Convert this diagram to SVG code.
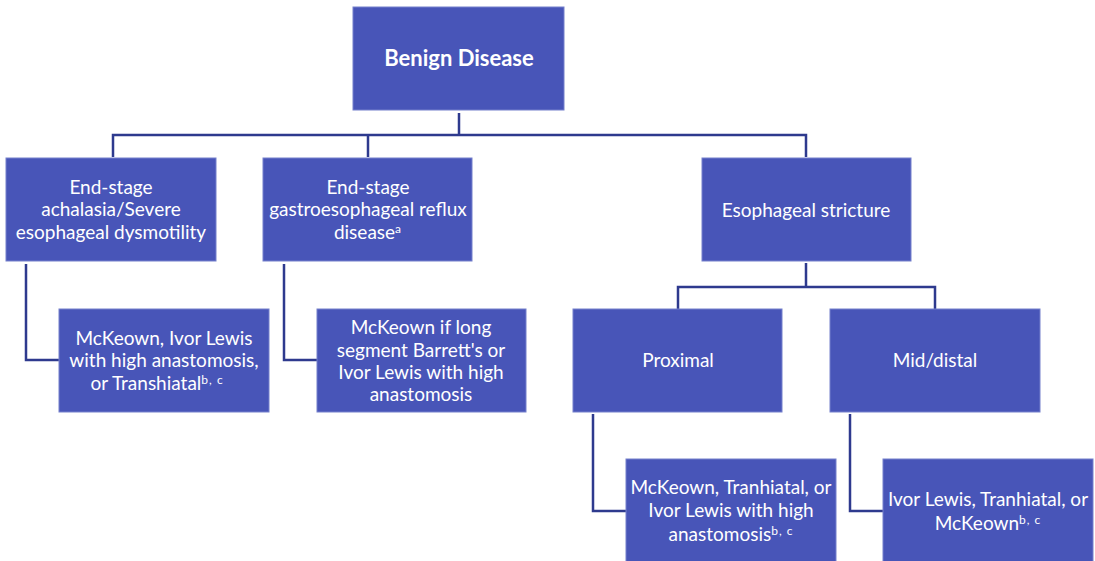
<svg xmlns="http://www.w3.org/2000/svg" width="1095" height="561" viewBox="0 0 1095 561">
<style>
.box{fill:#4855B8;stroke:#7580CC;stroke-width:1}
.t{font-family:Lato,"Open Sans","Liberation Sans",sans-serif;font-size:19px;fill:#ffffff;text-anchor:middle}
.b{font-weight:bold;font-size:22px}
.sup{font-size:12px;letter-spacing:1px}
.c{fill:none;stroke:#2E3A8E;stroke-width:2.5}
</style>
<rect width="1095" height="561" fill="#ffffff"/>
<g id="connectors">
<path class="c" d="M459,113 V135 M113,157 V135 H806 V157 M368,135 V157"/>
<path class="c" d="M26,264 V360 H59"/>
<path class="c" d="M284,264 V360 H317"/>
<path class="c" d="M806,263 V287 M678,309 V287 H935 V309"/>
<path class="c" d="M593,414 V511 H626"/>
<path class="c" d="M850,414 V511 H883"/>
</g>
<g id="root"><rect class="box" x="353" y="7" width="211" height="103"/><text class="t b" x="459" y="66">Benign Disease</text></g>
<g id="n1"><rect class="box" x="6" y="158" width="210" height="103"/><text class="t" x="111" y="194">End-stage</text><text class="t" x="111" y="216">achalasia/Severe</text><text class="t" x="111" y="239">esophageal dysmotility</text></g>
<g id="n2"><rect class="box" x="263" y="158" width="209" height="103"/><text class="t" x="368" y="194">End-stage</text><text class="t" x="368" y="216">gastroesophageal reflux</text><text class="t" x="368" y="239">disease<tspan class="sup" dy="-6">a</tspan></text></g>
<g id="n3"><rect class="box" x="702" y="158" width="209" height="103"/><text class="t" x="806" y="217">Esophageal stricture</text></g>
<g id="n4"><rect class="box" x="59" y="309" width="210" height="103"/><text class="t" x="164" y="345">McKeown, Ivor Lewis</text><text class="t" x="164" y="367">with high anastomosis,</text><text class="t" x="157" y="390">or Transhiatal<tspan class="sup" dy="-6">b, c</tspan></text></g>
<g id="n5"><rect class="box" x="317" y="309" width="209" height="103"/><text class="t" x="421" y="334">McKeown if long</text><text class="t" x="421" y="357">segment Barrett's or</text><text class="t" x="421" y="379">Ivor Lewis with high</text><text class="t" x="421" y="401">anastomosis</text></g>
<g id="n6"><rect class="box" x="573" y="309" width="209" height="103"/><text class="t" x="678" y="367">Proximal</text></g>
<g id="n7"><rect class="box" x="830" y="309" width="210" height="103"/><text class="t" x="935" y="367">Mid/distal</text></g>
<g id="n8"><rect class="box" x="626" y="459" width="210" height="110"/><text class="t" x="731" y="494">McKeown, Tranhiatal, or</text><text class="t" x="731" y="517">Ivor Lewis with high</text><text class="t" x="731" y="541">anastomosis<tspan class="sup" dy="-6">b, c</tspan></text></g>
<g id="n9"><rect class="box" x="883" y="459" width="210" height="110"/><text class="t" x="988" y="506">Ivor Lewis, Tranhiatal, or</text><text class="t" x="988" y="530">McKeown<tspan class="sup" dy="-6">b, c</tspan></text></g>
</svg>
